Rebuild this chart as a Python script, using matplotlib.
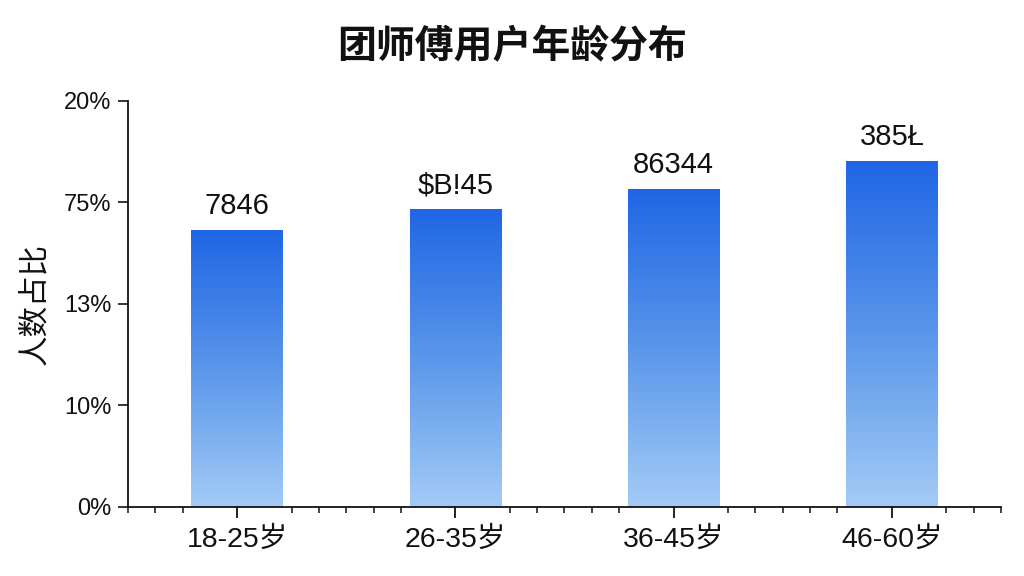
import numpy as np
import matplotlib
matplotlib.use("Agg")
import matplotlib.pyplot as plt
from matplotlib.colors import LinearSegmentedColormap
from matplotlib.ticker import FixedLocator

# ---- data ----
categories = ["18-25岁", "26-35岁", "36-45岁", "46-60岁"]
values = [13.63, 14.68, 15.68, 17.03]
bar_labels = ["7846", "$B!45", "86344", "385Ł"]
ytick_values = [0, 5, 10, 15, 20]
ytick_labels = ["0%", "10%", "13%", "75%", "20%"]
title = "团师傅用户年龄分布"
ylabel = "人数占比"

plt.rcParams['font.family'] = ['Liberation Sans', 'Noto Sans CJK SC', 'DejaVu Sans']

fig = plt.figure(figsize=(10.24, 5.76), dpi=100)
ax = fig.add_axes([0.125, 0.12, 0.8525, 0.705])

x = np.arange(len(categories))
width = 0.42
bars = ax.bar(x, values, width=width, color='none', edgecolor='none', zorder=2)

cmap = LinearSegmentedColormap.from_list("grad", ["#a3cbf6", "#5a96ea", "#1f66e5"])
grad = np.linspace(0, 1, 256).reshape(-1, 1)
for b in bars:
    x0, y0 = b.get_x(), b.get_y()
    w, h = b.get_width(), b.get_height()
    im = ax.imshow(grad, cmap=cmap, origin='lower', aspect='auto',
                   extent=(x0, x0 + w, y0, y0 + h), zorder=2)
    im.set_clip_path(b)

for xi, v, lab in zip(x, values, bar_labels):
    ax.annotate(lab, xy=(xi, v), xytext=(0, 7), textcoords='offset points',
                ha='center', va='bottom', fontsize=21, color='#111111')

ax.set_xlim(-0.5, 3.5)
ax.set_ylim(0, 20)
ax.set_xticks(x)
ax.set_xticklabels(categories, fontsize=20.5, color='#111111')
minor = [m for m in np.arange(-0.5, 3.5001, 0.125)
         if np.min(np.abs(m - x)) > 0.2]
ax.xaxis.set_minor_locator(FixedLocator(minor))
ax.set_yticks(ytick_values)
ax.set_yticklabels(ytick_labels, fontsize=17, color='#111111')

for s in ['top', 'right']:
    ax.spines[s].set_visible(False)
for s in ['left', 'bottom']:
    ax.spines[s].set_linewidth(1.3)
    ax.spines[s].set_color('#111111')

ax.tick_params(axis='x', which='major', length=8, width=1.3, pad=6, color='#111111')
ax.tick_params(axis='x', which='minor', length=4, width=1.1, color='#111111')
ax.tick_params(axis='y', which='major', length=7, width=1.2, pad=5, color='#111111')

ax.set_ylabel(ylabel, fontsize=22, color='#111111', labelpad=10)
fig.suptitle(title, fontsize=28, fontweight='bold', y=0.952, color='#111111',
             family=['Noto Sans CJK SC'])

fig.savefig("out.png", dpi=100)
